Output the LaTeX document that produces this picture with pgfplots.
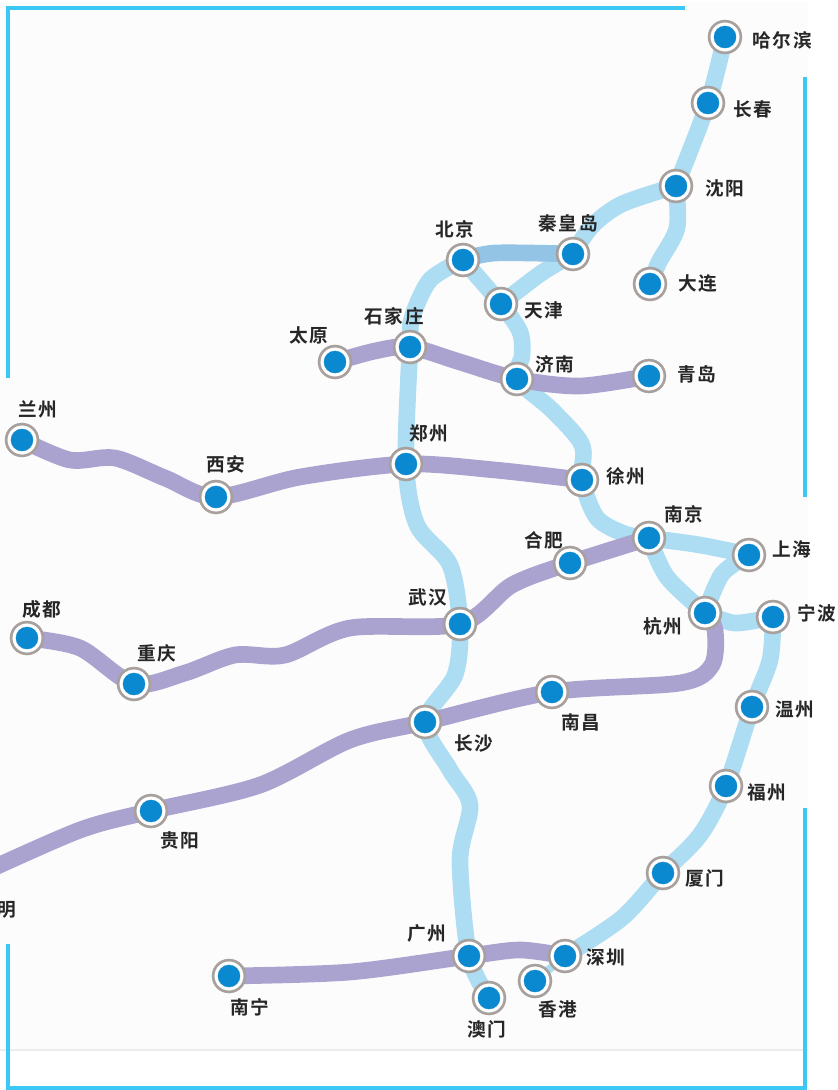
\documentclass[border=0pt]{standalone}
\usepackage{pgfplots}
\usepackage{pgfplotstable}
\usepackage{fontspec}
\pgfplotsset{compat=1.18}
\newfontfamily\cjk[LetterSpace=10,BoldFont={Noto Sans CJK SC Bold}]{Noto Sans CJK SC}
\definecolor{bgc}{HTML}{FCFCFC}
\definecolor{lb}{HTML}{ADDDF3}
\definecolor{db}{HTML}{93C4E6}
\definecolor{pu}{HTML}{ABA3CF}
\definecolor{cy}{HTML}{3CC8F4}
\definecolor{dot}{HTML}{0A88D0}
\definecolor{ring}{HTML}{A8A09D}
\definecolor{ln}{HTML}{EDEDED}
\pgfplotstableread{
x y
725 37
708 103
676 186
650 284
573 254
463 260
501 304
410 347
335 362
517 379
649 376
22 440
216 497
406 464
582 480
649 538
749 555
570 563
705 613
773 617
460 624
27 638
134 684
552 692
425 722
752 707
726 786
151 811
663 873
469 956
565 956
535 981
489 998
229 976
}\stations
\tikzset{lab/.style={anchor=west,inner sep=0pt,outer sep=0pt,text=black!85,font=\cjk\bfseries\fontsize{14}{15}\selectfont}}
\pgfplotsset{
  lbl/.style={lb,line width=12.5pt,smooth,tension=0.5,no marks,line join=round},
  pul/.style={pu,line width=12.5pt,smooth,tension=0.5,no marks,line join=round},
}
\begin{document}
\begin{tikzpicture}[x=1pt,y=1pt]
\path[use as bounding box] (0,0) rectangle (628.5,817.5);
\begin{axis}[at={(0,0)},anchor=south west,width=628.5pt,height=817.5pt,scale only axis,
  xmin=0,xmax=838,ymin=0,ymax=1090,y dir=reverse,axis lines=none,clip=true]
% background
\fill[bgc] (axis cs:0,2) rectangle (axis cs:808,1050);
\addplot[ln,line width=1.1pt,no marks] coordinates {(0,1050) (808,1050)};
% frame
\addplot[cy,line width=2.3pt,no marks,line cap=butt] coordinates {(8,378) (8,8) (685,8)};
\addplot[cy,line width=2.3pt,no marks] coordinates {(8,944) (8,1088) (805,1088) (805,808)};
\addplot[cy,line width=2.3pt,no marks] coordinates {(805,77) (805,497)};
% light blue lines
\addplot[lbl] coordinates {(725,37) (708,103) (676,186)};
\addplot[lbl] coordinates {(676,186) (622,204) (592,226) (573,254)};
\addplot[lbl] coordinates {(676,186) (677,228) (659,262) (650,284)};
\addplot[lbl] coordinates {(573,254) (540,274) (501,304)};
\addplot[lbl] coordinates {(463,260) (501,304) (520,332) (522,356) (517,379) (552,410) (582,445) (582,480) (597,518) (625,534) (649,538)};
\addplot[lbl] coordinates {(649,538) (667,577) (705,613)};
\addplot[lbl] coordinates {(649,538) (700,545) (749,555)};
\addplot[lbl] coordinates {(749,555) (722,574) (705,613)};
\addplot[lbl] coordinates {(705,613) (735,623) (773,617)};
\addplot[lbl] coordinates {(773,617) (770,660) (752,707) (726,786) (700,835) (663,873) (622,918) (565,956)};
\addplot[lbl] coordinates {(463,260) (430,280) (412,318) (410,347) (406,464) (417,525) (450,565) (460,624) (455,675) (425,722) (450,770) (470,805) (460,860) (469,956) (489,998)};
\addplot[lb,line width=6pt,no marks] coordinates {(565,956) (535,981)};
% darker blue
\addplot[db,line width=12.5pt,smooth,tension=0.5,no marks] coordinates {(463,260) (495,253) (573,254)};
% purple lines
\addplot[pul] coordinates {(335,362) (375,351) (410,347) (460,362) (517,379) (580,386) (649,376)};
\addplot[pul] coordinates {(22,440) (70,460) (115,458) (165,478) (216,497) (300,477) (406,464) (495,470) (582,480)};
\addplot[pul] coordinates {(27,638) (80,648) (134,684) (185,673) (235,655) (285,655) (350,628) (460,624) (512,585) (570,563) (649,538)};
\addplot[pul] coordinates {(-20,874) (80,830) (151,811) (260,785) (350,740) (425,722) (552,692) (680,683) (712,665) (715,630) (705,613)};
\addplot[pul] coordinates {(229,976) (350,972) (469,956) (520,950) (565,956)};
% stations
\addplot[only marks,ring,mark=*,mark size=12.8pt,mark options={draw=ring,fill=ring,line width=0.2pt}] table {\stations};
\addplot[only marks,white,mark=*,mark size=10.7pt,mark options={draw=white,fill=white,line width=0.2pt}] table {\stations};
\addplot[only marks,dot,mark=*,mark size=8.3pt,mark options={draw=dot,fill=dot,line width=0.2pt}] table {\stations};
% labels
\node[lab] at (axis cs:752,40) {哈尔滨};
\node[lab] at (axis cs:733,109) {长春};
\node[lab] at (axis cs:705,188) {沈阳};
\node[lab] at (axis cs:678,283) {大连};
\node[lab] at (axis cs:538,223) {秦皇岛};
\node[lab] at (axis cs:435,229) {北京};
\node[lab] at (axis cs:524,310) {天津};
\node[lab] at (axis cs:364,316) {石家庄};
\node[lab] at (axis cs:289,335) {太原};
\node[lab] at (axis cs:535,364) {济南};
\node[lab] at (axis cs:677,374) {青岛};
\node[lab] at (axis cs:18,409) {兰州};
\node[lab] at (axis cs:206,464) {西安};
\node[lab] at (axis cs:409,433) {郑州};
\node[lab] at (axis cs:606,476) {徐州};
\node[lab] at (axis cs:664,514) {南京};
\node[lab] at (axis cs:772,549) {上海};
\node[lab] at (axis cs:524,540) {合肥};
\node[lab] at (axis cs:643,626) {杭州};
\node[lab] at (axis cs:797,613) {宁波};
\node[lab] at (axis cs:408,597) {武汉};
\node[lab] at (axis cs:22,609) {成都};
\node[lab] at (axis cs:137,653) {重庆};
\node[lab] at (axis cs:561,722) {南昌};
\node[lab] at (axis cs:454,744) {长沙};
\node[lab] at (axis cs:775,709) {温州};
\node[lab] at (axis cs:747,792) {福州};
\node[lab] at (axis cs:160,840) {贵阳};
\node[lab] at (axis cs:685,878) {厦门};
\node[lab] at (axis cs:407,933) {广州};
\node[lab] at (axis cs:586,957) {深圳};
\node[lab] at (axis cs:538,1009) {香港};
\node[lab] at (axis cs:467,1029) {澳门};
\node[lab] at (axis cs:230,1007) {南宁};
\node[lab] at (axis cs:-23,910) {昆明};
\end{axis}
\end{tikzpicture}
\end{document}
